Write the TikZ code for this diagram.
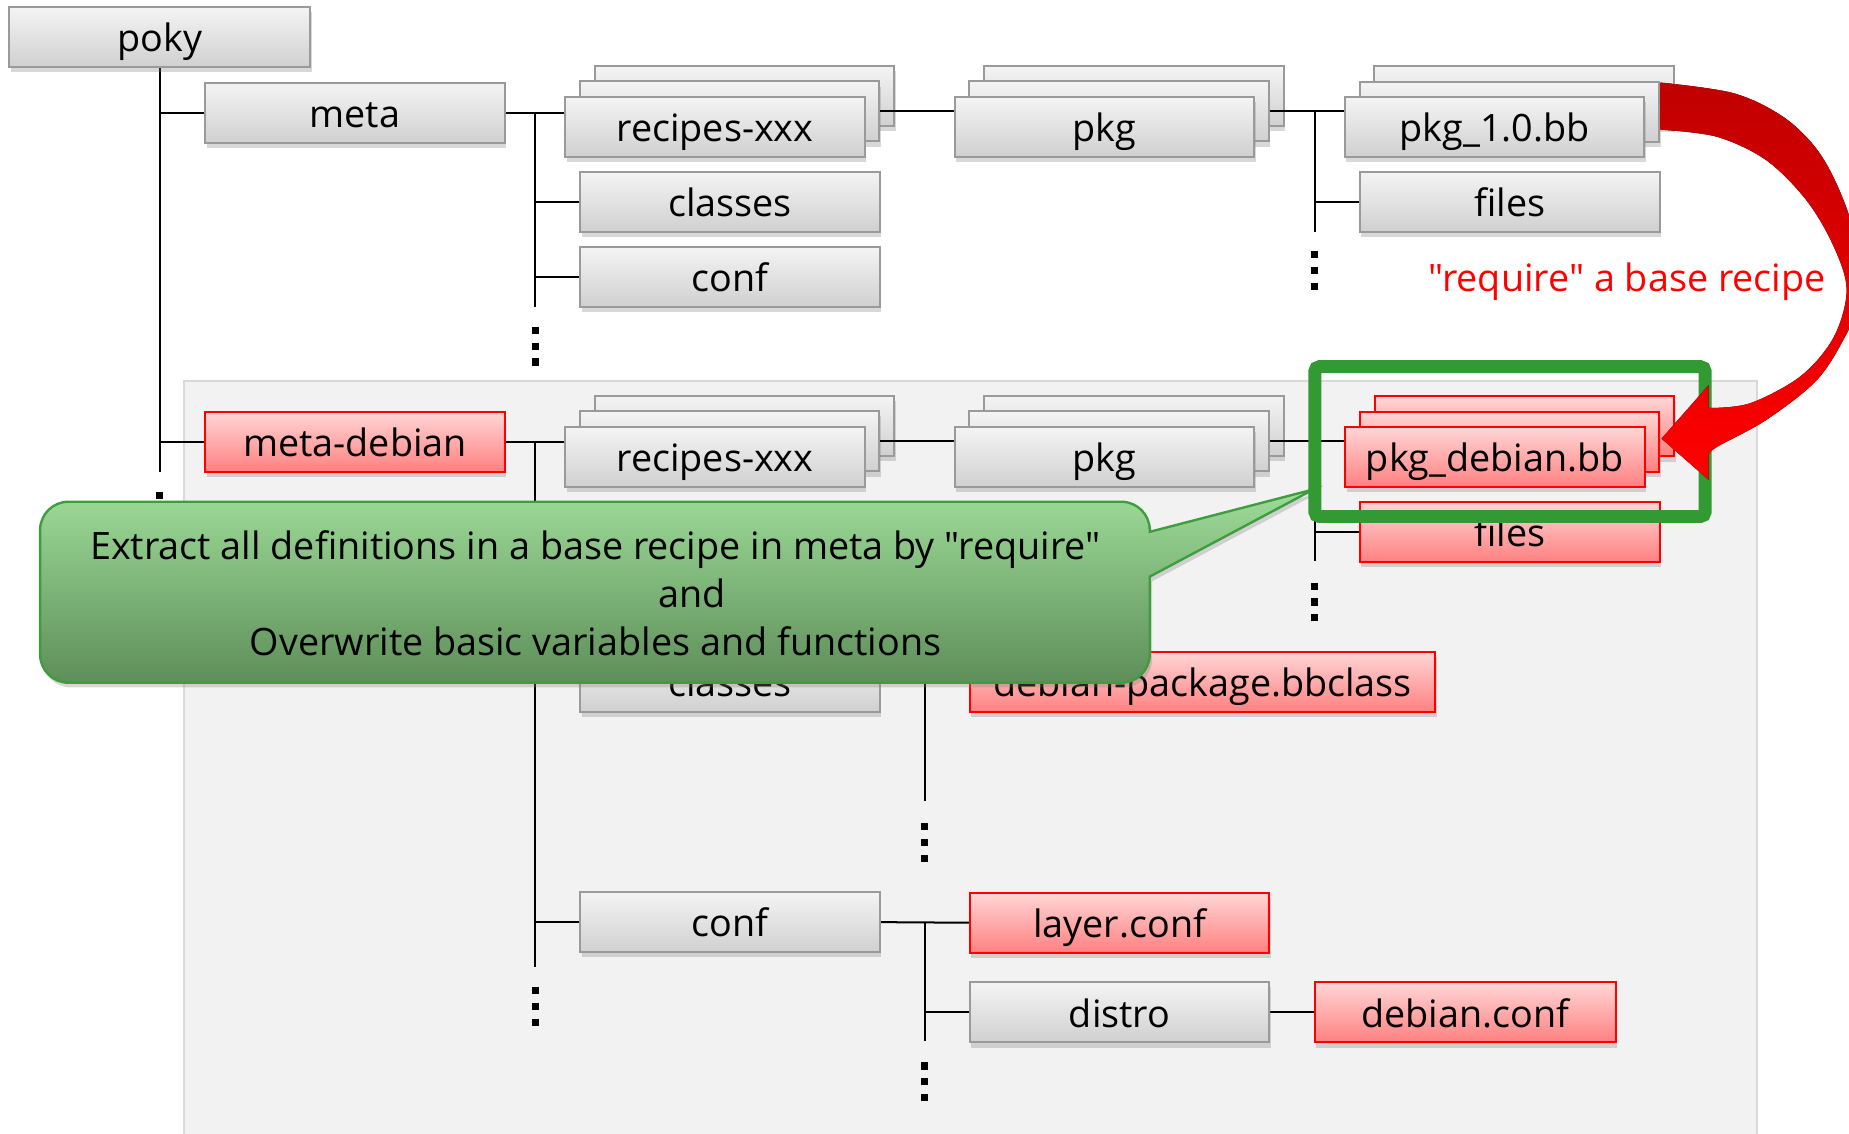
\documentclass[tikz,border=0pt]{standalone}
\usepackage{fontspec}
\setmainfont{Open Sans}[Ligatures=TeXOff]
\usetikzlibrary{shadows}
\definecolor{gtop}{HTML}{F4F4F4}
\definecolor{gbot}{HTML}{D0D0D0}
\definecolor{gline}{HTML}{9A9A9A}
\definecolor{rtop}{HTML}{FFD6D6}
\definecolor{rbot}{HTML}{FF8080}
\definecolor{rline}{HTML}{FF0000}
\definecolor{bgfill}{HTML}{F2F2F2}
\definecolor{bgline}{HTML}{D9D9D9}
\definecolor{hlgreen}{HTML}{339933}
\definecolor{ctop}{HTML}{9EDC99}
\definecolor{cbot}{HTML}{5E8E59}
\definecolor{cline}{HTML}{3C9E3C}
\definecolor{atop}{HTML}{C00000}
\definecolor{abot}{HTML}{FF0000}
\pgfdeclarelayer{bg}
\pgfsetlayers{bg,main}
\newcommand\tridots[2]{\foreach \k in {0,1,2}{\fill (#1-3,#2-3+13.5*\k) rectangle ++(6,6);}}
\begin{document}
\begin{tikzpicture}[x=0.5pt,y=-0.5pt,
  every node/.style={font=\fontsize{16}{18}\selectfont},
  box/.style={draw=gline, line width=0.85pt, top color=gtop, bottom color=gbot,
    minimum width=127pt, minimum height=25.5pt, inner sep=0pt,
    text height=14pt, text depth=1.5pt,
    drop shadow={shadow xshift=0.6pt, shadow yshift=-2.2pt, opacity=0.3}},
  rbox/.style={box, draw=rline, top color=rtop, bottom color=rbot},
  tree/.style={line width=0.85pt, draw=black}
]
\useasboundingbox (0,0) rectangle (1568,961);

% ---- first tree (meta) ----
\node[box, minimum width=127.5pt] (poky) at (135.5,31.5) {poky};
\node[box] (meta) at (301,95.5) {meta};
\node[box] (rec1b) at (631.3,81.5) {};
\node[box] (rec1m) at (618.8,94.5) {};
\node[box] (rec1) at (606.3,107.5) {recipes-xxx};
\node[box] (cls1) at (619,171) {classes};
\node[box] (conf1) at (619,234.6) {conf};
\node[box] (pkg1b) at (961.5,81.5) {};
\node[box] (pkg1m) at (949,94.5) {};
\node[box] (pkg1) at (936.5,107.5) {pkg};
\node[box] (pbbb) at (1292.5,81.7) {};
\node[box] (pbbm) at (1280,94.7) {};
\node[box] (pbb) at (1267.5,107.7) {pkg\_1.0.bb};
\node[box] (files1) at (1280.3,171) {files};

% ---- second tree (meta-debian) ----
\node[rbox] (mdeb) at (301,374.5) {meta-debian};
\node[box] (rec2b) at (631.3,361.3) {};
\node[box] (rec2m) at (618.8,374.3) {};
\node[box] (rec2) at (606.3,387.3) {recipes-xxx};
\node[box] (pkg2b) at (961.5,361.3) {};
\node[box] (pkg2m) at (949,374.3) {};
\node[box] (pkg2) at (936.5,387.3) {pkg};
\node[rbox] (pdebb) at (1292.7,361.5) {};
\node[rbox] (pdebm) at (1280.2,374.5) {};
\node[rbox] (pdeb) at (1267.7,387.5) {pkg\_debian.bb};
\node[rbox] (files2) at (1280.3,451.2) {files};
\node[box] (cls2) at (619,578) {classes};
\node[rbox, minimum width=197.5pt] (bbc) at (1019.8,578.3) {debian-package.bbclass};
\node[box] (conf2) at (619,782) {conf};
\node[rbox] (layer) at (949.5,782.5) {layer.conf};
\node[box] (distro) at (949.5,858.5) {distro};
\node[rbox, minimum width=127.5pt] (debconf) at (1242.5,858.5) {debian.conf};

% ---- links between stacks (drawn over the back cards) ----
\draw[tree] (rec1m.east) -- (rec1m.east -| pkg1.west);
\draw[tree] (pkg1m.east) -- (pkg1m.east -| pbb.west);
\draw[tree] (rec2m.east) -- (rec2m.east -| pkg2.west);
\draw[tree] (pkg2m.east) -- (pkg2m.east -| pdeb.west);

% ---- coordinates for tree trunks ----
\coordinate (t0end) at (135.5,400);
\coordinate (t1top) at (454,95.5);
\coordinate (t1end) at (454,260);
\coordinate (t2top) at (1115,94.5);
\coordinate (t2end) at (1115,196.5);
\coordinate (t3top) at (454,374.5);
\coordinate (t3end) at (454,820);
\coordinate (t4top) at (1115,374.3);
\coordinate (t4end) at (1115,476);
\coordinate (t5top) at (784,578);
\coordinate (t5end) at (784,679);
\coordinate (t6top) at (784,782);
\coordinate (t6end) at (784,883);

\begin{pgfonlayer}{bg}
\fill[white] (0,0) rectangle (1568,961);
\draw[fill=bgfill, draw=bgline, line width=0.6pt] (156,323) rectangle (1490,965);
\draw[tree] (poky.south) -- (t0end);
\draw[tree] (poky.south |- meta.west) -- (meta.west);
\draw[tree] (poky.south |- mdeb.west) -- (mdeb.west);
\draw[tree] (meta.east) -- (meta.east -| rec1.west);
\draw[tree] (t1top) -- (t1end);
\draw[tree] (t1top |- cls1.west) -- (cls1.west);
\draw[tree] (t1top |- conf1.west) -- (conf1.west);
\draw[tree] (t2top) -- (t2end);
\draw[tree] (t2top |- files1.west) -- (files1.west);
\draw[tree] (mdeb.east) -- (mdeb.east -| rec2.west);
\draw[tree] (t3top) -- (t3end);
\draw[tree] (t3top |- cls2.west) -- (cls2.west);
\draw[tree] (t3top |- conf2.west) -- (conf2.west);
\draw[tree] (t4top) -- (t4end);
\draw[tree] (t4top |- files2.west) -- (files2.west);
\draw[tree] (cls2.east) -- (bbc.west);
\draw[tree] (t5top) -- (t5end);
\draw[tree] (conf2.east) -- (layer.west);
\draw[tree] (t6top) -- (t6end);
\draw[tree] (t6top |- distro.west) -- (distro.west);
\draw[tree] (distro.east) -- (debconf.west);
\tridots{454}{280}
\tridots{1115}{216}
\tridots{135.5}{420.5}
\tridots{1115}{497}
\tridots{784}{701}
\tridots{454}{840}
\tridots{784}{904}
\end{pgfonlayer}

% ---- red label ----
\node[text=red, anchor=base east, inner sep=0pt] (req) at (1548.6,247) {"require" a base recipe};

% ---- callout ----
\path[draw=cline, line width=1pt, top color=ctop, bottom color=cbot,
  drop shadow={shadow xshift=1pt, shadow yshift=-2pt, opacity=0.3}]
  (975,451) -- (1114,415) -- (975,489)
  {[rounded corners=12pt] -- (975,579) -- (34,579) -- (34,425.5) -- (975,425.5)} -- cycle;
\node[align=center, inner sep=0pt, font=\fontsize{16}{20.25}\selectfont] (ctext) at (505,503)
  {Extract all definitions in a base recipe in meta by "require"\\
   \hspace*{82pt}and\\
   Overwrite basic variables and functions};

% ---- green highlight ----
\node[draw=hlgreen, line width=5.5pt, rounded corners=2pt, minimum width=165.5pt,
  minimum height=63.5pt, inner sep=0pt] (hl) at (1280.5,374.5) {};

% ---- red curved arrow ----
\begin{scope}
\clip (0,0) rectangle (1568,961);
\fill[top color=atop, bottom color=abot]
  plot[smooth, tension=0.55] coordinates {(1408,70) (1470,79) (1512,99) (1541,127) (1561,164) (1577,212) (1580,250) (1566,283) (1541,322) (1498,356) (1456,379) (1449,386)}
  -- (1449,407) -- (1409,372) -- (1449,326.5) --
  plot[smooth, tension=0.55] coordinates {(1449,346) (1484,342) (1527,319) (1555,286) (1566,246) (1555,209) (1532,170) (1498,136) (1456,116) (1408,110)}
  -- cycle;
\end{scope}
\end{tikzpicture}
\end{document}
